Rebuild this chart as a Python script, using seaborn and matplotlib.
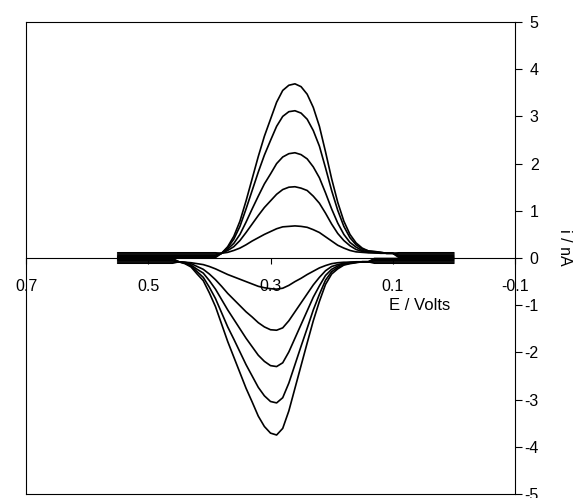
import pandas as pd
import matplotlib
matplotlib.use("Agg")
import matplotlib.pyplot as plt
import seaborn as sns

# ---------------------------------------------------------
# Data (E in volts, i in nA)
# ---------------------------------------------------------

# oxidation (upper) scans: flat start, peak region, flat end
E_UP = [0.55, 0.39,
        0.38, 0.37, 0.36, 0.35, 0.34, 0.33, 0.32, 0.31, 0.30, 0.29,
        0.28, 0.27, 0.26, 0.25, 0.24, 0.23, 0.22, 0.21, 0.20, 0.19,
        0.18, 0.17, 0.16, 0.15, 0.14, 0.13, 0.12, 0.11, 0.10,
        0.09, 0.00]

UP_1 = [0.10, 0.24, 0.46, 0.78, 1.21, 1.68, 2.15, 2.58, 2.94, 3.30,
        3.55, 3.66, 3.69, 3.63, 3.47, 3.19, 2.79, 2.25, 1.68, 1.18,
        0.78, 0.50, 0.32, 0.21, 0.15, 0.14, 0.12, 0.10, 0.10]
UP_2 = [0.10, 0.22, 0.40, 0.67, 1.04, 1.43, 1.82, 2.18, 2.49, 2.79,
        3.00, 3.10, 3.12, 3.07, 2.94, 2.70, 2.37, 1.91, 1.43, 1.01,
        0.67, 0.43, 0.28, 0.19, 0.15, 0.13, 0.12, 0.10, 0.10]
UP_3 = [0.10, 0.19, 0.31, 0.50, 0.76, 1.04, 1.31, 1.57, 1.78, 2.00,
        2.14, 2.21, 2.23, 2.19, 2.10, 1.93, 1.70, 1.38, 1.04, 0.74,
        0.50, 0.33, 0.23, 0.16, 0.13, 0.12, 0.11, 0.10, 0.10]
UP_4 = [0.10, 0.16, 0.24, 0.37, 0.54, 0.72, 0.90, 1.07, 1.21, 1.35,
        1.45, 1.50, 1.51, 1.48, 1.43, 1.31, 1.16, 0.95, 0.72, 0.52,
        0.37, 0.26, 0.18, 0.14, 0.12, 0.11, 0.11, 0.10, 0.10]
UP_5 = [0.10, 0.12, 0.16, 0.21, 0.28, 0.36, 0.43, 0.50, 0.56, 0.62,
        0.66, 0.67, 0.68, 0.67, 0.65, 0.60, 0.54, 0.45, 0.36, 0.27,
        0.21, 0.16, 0.13, 0.12, 0.11, 0.11, 0.10, 0.10, 0.10]
BASE_UP = [0.11, 0.085, 0.06, 0.035, 0.01]

# reduction (lower) scans
E_DN = [0.55, 0.46,
        0.45, 0.44, 0.43, 0.42, 0.41, 0.40, 0.39, 0.38, 0.37, 0.36,
        0.35, 0.34, 0.33, 0.32, 0.31, 0.30, 0.29, 0.28, 0.27, 0.26,
        0.25, 0.24, 0.23, 0.22, 0.21, 0.20, 0.19, 0.18, 0.17, 0.16,
        0.15, 0.14,
        0.13, 0.00]

DN_1 = [-0.08, -0.12, -0.19, -0.34, -0.48, -0.74, -1.03, -1.40, -1.77, -2.10,
        -2.43, -2.76, -3.05, -3.35, -3.57, -3.71, -3.75, -3.61, -3.24, -2.76,
        -2.28, -1.80, -1.33, -0.92, -0.56, -0.34, -0.23, -0.15, -0.12, -0.10,
        -0.08, -0.08]
DN_2 = [-0.08, -0.11, -0.17, -0.29, -0.41, -0.62, -0.86, -1.16, -1.46, -1.72,
        -1.99, -2.26, -2.50, -2.74, -2.92, -3.04, -3.07, -2.96, -2.65, -2.26,
        -1.87, -1.49, -1.10, -0.77, -0.47, -0.29, -0.20, -0.14, -0.11, -0.09,
        -0.08, -0.08]
DN_3 = [-0.08, -0.10, -0.15, -0.24, -0.32, -0.48, -0.66, -0.88, -1.10, -1.30,
        -1.50, -1.70, -1.88, -2.06, -2.19, -2.28, -2.30, -2.22, -1.99, -1.70,
        -1.41, -1.12, -0.83, -0.59, -0.37, -0.24, -0.17, -0.12, -0.10, -0.09,
        -0.08, -0.08]
DN_4 = [-0.08, -0.09, -0.12, -0.18, -0.24, -0.34, -0.46, -0.60, -0.75, -0.88,
        -1.01, -1.14, -1.25, -1.37, -1.46, -1.52, -1.53, -1.48, -1.33, -1.14,
        -0.95, -0.76, -0.57, -0.41, -0.27, -0.18, -0.14, -0.11, -0.09, -0.09,
        -0.08, -0.08]
DN_5 = [-0.08, -0.09, -0.10, -0.12, -0.14, -0.18, -0.23, -0.29, -0.35, -0.40,
        -0.45, -0.50, -0.55, -0.60, -0.63, -0.65, -0.66, -0.64, -0.58, -0.50,
        -0.43, -0.35, -0.28, -0.21, -0.16, -0.12, -0.10, -0.09, -0.09, -0.08,
        -0.08, -0.08]
BASE_DN = [-0.01, -0.035, -0.06, -0.085, -0.11]

XTICKS = [0.7, 0.5, 0.3, 0.1, -0.1]
XTICK_LABELS = ["0.7", "0.5", "0.3", "0.1", "-0.1"]
YTICKS = [-5, -4, -3, -2, -1, 0, 1, 2, 3, 4, 5]

# ---------------------------------------------------------
# Long table, one unit per scan
# ---------------------------------------------------------
frames = []
for k, (vals, b) in enumerate(zip([UP_1, UP_2, UP_3, UP_4, UP_5], BASE_UP)):
    frames.append(pd.DataFrame({"E": E_UP, "i": [b, b] + vals + [b, b], "scan": f"ox{k}"}))
for k, (vals, b) in enumerate(zip([DN_1, DN_2, DN_3, DN_4, DN_5], BASE_DN)):
    frames.append(pd.DataFrame({"E": E_DN, "i": [b, b] + vals + [b, b], "scan": f"red{k}"}))
df = pd.concat(frames, ignore_index=True)

sns.set_theme(style="white")
plt.rcParams["font.family"] = ["Liberation Sans", "DejaVu Sans"]
plt.rcParams["axes.unicode_minus"] = False

fig = plt.figure(figsize=(5.74, 4.98), dpi=100)
ax = fig.add_axes([26 / 574, 4 / 498, 489 / 574, 472 / 498])

sns.lineplot(data=df, x="E", y="i", units="scan", estimator=None, sort=False,
             color="black", lw=1.2, legend=False, ax=ax,
             solid_joinstyle="round")

ax.set_xlim(0.7, -0.1)
ax.set_ylim(-5, 5)
ax.set_xlabel("")
ax.set_ylabel("")
ax.set_xticks([])

for s in ax.spines.values():
    s.set_color("black")
    s.set_linewidth(0.8)

# current axis on the right
ax.yaxis.tick_right()
ax.set_yticks(YTICKS)
ax.tick_params(axis="y", which="major", right=True, left=False, direction="out",
               length=5, width=0.8, color="black", pad=12, labelsize=11.5,
               labelcolor="black")
for lab in ax.get_yticklabels():
    lab.set_horizontalalignment("right")

# potential axis drawn through i = 0
sec = ax.secondary_xaxis(0.5)
sec.set_alignment("bottom")
sec.set_xticks(XTICKS, labels=XTICK_LABELS)
sec.tick_params(direction="out", length=4, width=0.8, color="black", pad=11,
                labelsize=11.5, labelcolor="black")
sec.spines["bottom"].set_color("black")
sec.spines["bottom"].set_linewidth(0.8)

ax.text((389 - 26) / 489, 0.40, "E / Volts", transform=ax.transAxes, ha="left",
        va="center", fontsize=12, color="black")
fig.text(564 / 574, 1 - 247 / 498, "i / nA", rotation=-90, ha="center",
         va="center", fontsize=11.5, color="black")

fig.savefig("out.png", dpi=100)
